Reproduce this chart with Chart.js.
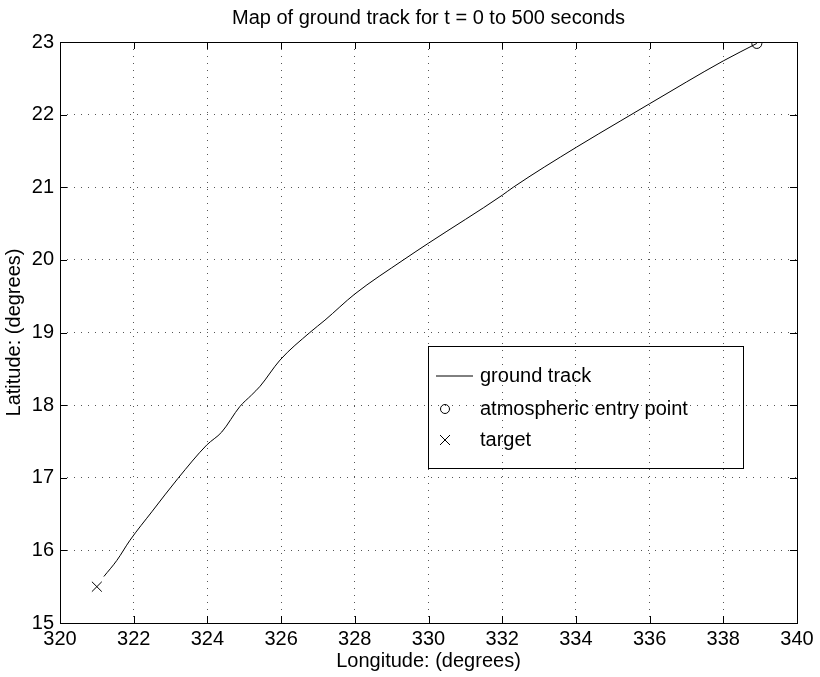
<!DOCTYPE html>
<html>
<head>
<meta charset="utf-8">
<script src="https://cdn.jsdelivr.net/npm/chart.js@4"></script>
<style>
  html, body { margin: 0; padding: 0; background: #fff; }
  #wrap { width: 820px; height: 677px; }
</style>
</head>
<body>
<div id="wrap"><canvas id="myChart"></canvas></div>
<script>
// ground track
const trackLon = [321.19, 321.54, 321.90, 322.49, 323.2, 323.98, 324.39, 324.88, 325.20, 325.43,
  325.97, 326.78, 327.19, 328.0, 329.32, 330.0, 332.0, 332.30, 334.01, 335.2, 336.0, 338.0, 338.91];
const trackLat = [15.64, 15.86, 16.14, 16.53, 16.99, 17.45, 17.63, 17.98, 18.14, 18.26,
  18.62, 19.0, 19.17, 19.53, 20.0, 20.23, 20.89, 21.0, 21.55, 21.91, 22.15, 22.74, 22.98];
const entryPoint = { lon: 338.91, lat: 22.98 };
const targetPoint = { lon: 321.0, lat: 15.5 };
const xTicks = [320, 322, 324, 326, 328, 330, 332, 334, 336, 338, 340];
const yTicks = [15, 16, 17, 18, 19, 20, 21, 22, 23];
const legendLabels = ["ground track", "atmospheric entry point", "target"];
const chartTitle = "Map of ground track for t = 0 to 500 seconds";

const FONT = "'Liberation Sans', Arial, Helvetica, sans-serif";
const ctx = document.getElementById("myChart");

// box, inward ticks, title and legend like the matlab figure
const frame = {
  id: "frame",
  afterDatasetsDraw(chart) {
    const c = chart.ctx;
    const a = chart.chartArea;
    const xs = chart.scales.x, ys = chart.scales.y;
    c.save();
    c.strokeStyle = "#000";
    c.lineWidth = 1;
    c.strokeRect(a.left + 0.5, a.top + 0.5, a.right - a.left, a.bottom - a.top);
    c.beginPath();
    xTicks.forEach((v) => {
      const px = Math.round(xs.getPixelForValue(v)) + 0.5;
      c.moveTo(px, a.bottom); c.lineTo(px, a.bottom - 7);
      c.moveTo(px, a.top); c.lineTo(px, a.top + 7);
    });
    yTicks.forEach((v) => {
      const py = Math.round(ys.getPixelForValue(v)) + 0.5;
      c.moveTo(a.left, py); c.lineTo(a.left + 7, py);
      c.moveTo(a.right, py); c.lineTo(a.right - 7, py);
    });
    c.stroke();

    c.fillStyle = "#000";
    c.textBaseline = "middle";
    c.textAlign = "center";
    c.font = "20px " + FONT;
    c.fillText(chartTitle, (a.left + a.right) / 2, 18);

    // legend (transparent, grid shows through)
    const bx = 428, by = 346, bw = 315, bh = 122;
    c.strokeRect(bx + 0.5, by + 0.5, bw, bh);
    c.textAlign = "left";
    const rows = [376, 409, 440];
    c.beginPath();
    c.moveTo(436, rows[0]); c.lineTo(473, rows[0]);
    c.stroke();
    c.beginPath();
    c.arc(445, rows[1], 4.5, 0, Math.PI * 2);
    c.stroke();
    c.beginPath();
    c.moveTo(440, rows[2] - 5); c.lineTo(450, rows[2] + 5);
    c.moveTo(450, rows[2] - 5); c.lineTo(440, rows[2] + 5);
    c.stroke();
    legendLabels.forEach((t, i) => c.fillText(t, 480, rows[i]));
    c.restore();
  },
};

const myChart = new Chart(ctx, {
  type: "scatter",
  data: {
    datasets: [
      {
        label: legendLabels[0],
        data: trackLon.map((x, i) => ({ x: x, y: trackLat[i] })),
        showLine: true,
        borderColor: "#000",
        borderWidth: 1,
        pointRadius: 0,
        cubicInterpolationMode: "monotone",
      },
      {
        label: legendLabels[1],
        data: [{ x: entryPoint.lon, y: entryPoint.lat }],
        pointStyle: "circle",
        pointRadius: 5,
        borderColor: "#000",
        backgroundColor: "rgba(0,0,0,0)",
        borderWidth: 1,
      },
      {
        label: legendLabels[2],
        data: [{ x: targetPoint.lon, y: targetPoint.lat }],
        pointStyle: "crossRot",
        pointRadius: 7,
        borderColor: "#000",
        borderWidth: 1,
      },
    ],
  },
  options: {
    responsive: true,
    maintainAspectRatio: false,
    animation: false,
    events: [],
    layout: { padding: { left: 0, right: 23, top: 42, bottom: 0 } },
    plugins: {
      legend: { display: false },
      tooltip: { enabled: false },
      title: { display: false },
    },
    scales: {
      x: {
        type: "linear",
        min: 320,
        max: 340,
        afterFit: (s) => { s.height = 54; },
        afterBuildTicks: (s) => { s.ticks = xTicks.map((v) => ({ value: v })); },
        ticks: { color: "#000", padding: 4, font: { family: FONT, size: 20 } },
        grid: { color: "#555", lineWidth: 1, drawTicks: false },
        border: { display: false, dash: [1, 6] },
        title: {
          display: true,
          text: "Longitude: (degrees)",
          color: "#000",
          font: { family: FONT, size: 20 },
          padding: { top: 0, bottom: 4 },
        },
      },
      y: {
        type: "linear",
        min: 15,
        max: 23,
        afterFit: (s) => { s.width = 60; },
        afterBuildTicks: (s) => { s.ticks = yTicks.map((v) => ({ value: v })); },
        ticks: { color: "#000", padding: 6, font: { family: FONT, size: 20 } },
        grid: { color: "#555", lineWidth: 1, drawTicks: false },
        border: { display: false, dash: [1, 6] },
        title: {
          display: true,
          text: "Latitude: (degrees)",
          color: "#000",
          font: { family: FONT, size: 20 },
          padding: { top: 2, bottom: 0 },
        },
      },
    },
  },
  plugins: [frame],
});
</script>
</body>
</html>
